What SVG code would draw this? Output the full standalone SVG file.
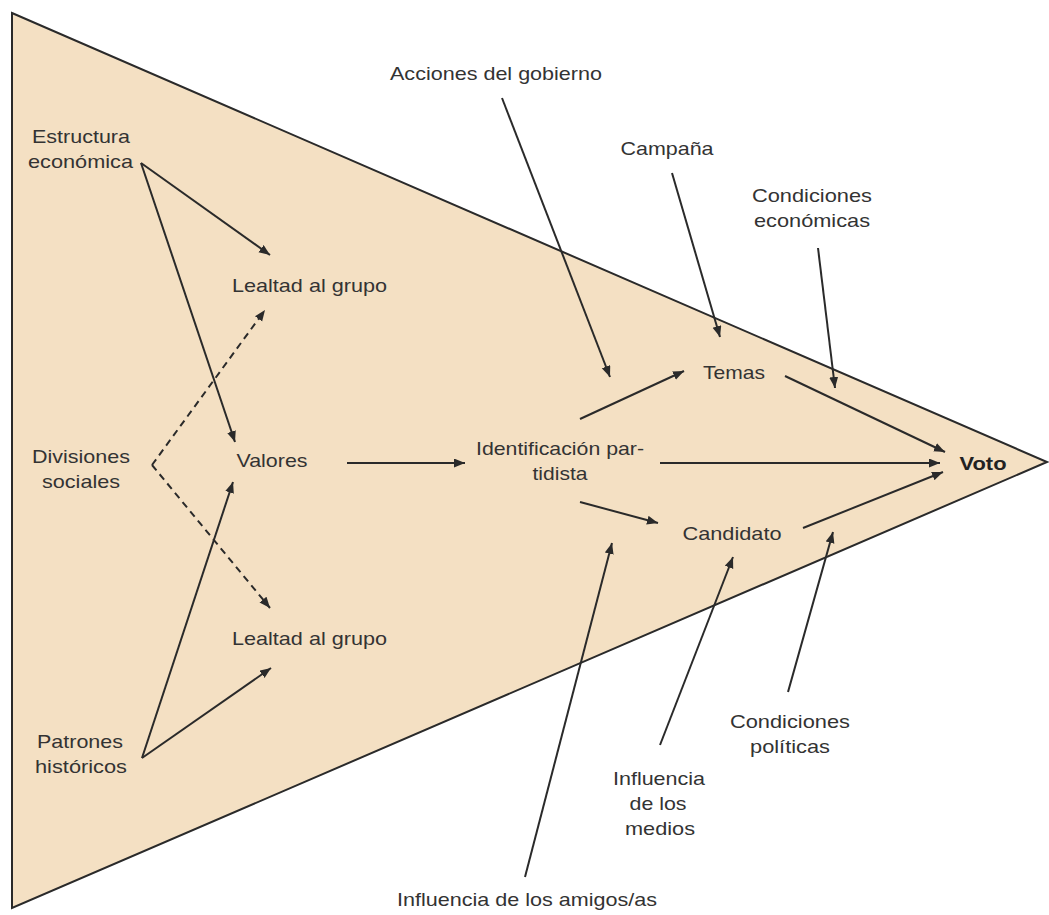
<svg xmlns="http://www.w3.org/2000/svg" width="1049" height="915" viewBox="0 0 1049 915">
<defs>
<marker id="ah" markerUnits="userSpaceOnUse" markerWidth="12" markerHeight="10" refX="11" refY="4.5" orient="auto">
<path d="M0,0 L11,4.5 L0,9 Z" fill="#2a2a2a"/>
</marker>
<style>
.t{font-family:"Liberation Sans",Arial,sans-serif;font-size:18.5px;fill:#333;text-anchor:middle}
.b{font-weight:bold;fill:#222}
.c{stroke:#2a2a2a;stroke-width:2;fill:none;marker-end:url(#ah)}
.d{stroke-dasharray:7,5}
</style>
</defs>
<rect x="0" y="0" width="1049" height="915" fill="#fff"/>
<g id="triangle">
<polygon points="12,13 1047,462 12,908" fill="#F4E0C3" stroke="#2a2a2a" stroke-width="2"/>
</g>
<g id="connectors">
<line class="c" x1="141" y1="163" x2="270" y2="255"/>
<line class="c" x1="141" y1="163" x2="235" y2="442"/>
<line class="c d" x1="152" y1="465" x2="265" y2="310"/>
<line class="c d" x1="152" y1="465" x2="270" y2="608"/>
<line class="c" x1="142" y1="758" x2="233" y2="482"/>
<line class="c" x1="142" y1="758" x2="271" y2="668"/>
<line class="c" x1="347" y1="463" x2="465" y2="463"/>
<line class="c" x1="502" y1="98" x2="610" y2="377"/>
<line class="c" x1="672" y1="173" x2="720" y2="337"/>
<line class="c" x1="580" y1="419" x2="684" y2="371"/>
<line class="c" x1="660" y1="463" x2="940" y2="463"/>
<line class="c" x1="580" y1="502" x2="658" y2="523"/>
<line class="c" x1="785" y1="376" x2="945" y2="452"/>
<line class="c" x1="803" y1="528" x2="943" y2="472"/>
<line class="c" x1="818" y1="248" x2="835" y2="388"/>
<line class="c" x1="525" y1="877" x2="612" y2="543"/>
<line class="c" x1="660" y1="745" x2="733" y2="557"/>
<line class="c" x1="788" y1="692" x2="833" y2="532"/>
</g>
<g id="estructura"><text class="t" x="81" y="143" textLength="98" lengthAdjust="spacingAndGlyphs">Estructura</text><text class="t" x="80.5" y="168" textLength="105" lengthAdjust="spacingAndGlyphs">económica</text></g>
<g id="lealtad1"><text class="t" x="309.5" y="292" textLength="155" lengthAdjust="spacingAndGlyphs">Lealtad al grupo</text></g>
<g id="divisiones"><text class="t" x="81" y="463" textLength="98" lengthAdjust="spacingAndGlyphs">Divisiones</text><text class="t" x="81" y="488" textLength="78" lengthAdjust="spacingAndGlyphs">sociales</text></g>
<g id="valores"><text class="t" x="272" y="467" textLength="71" lengthAdjust="spacingAndGlyphs">Valores</text></g>
<g id="lealtad2"><text class="t" x="309.5" y="645" textLength="155" lengthAdjust="spacingAndGlyphs">Lealtad al grupo</text></g>
<g id="patrones"><text class="t" x="80" y="748" textLength="86" lengthAdjust="spacingAndGlyphs">Patrones</text><text class="t" x="81" y="773" textLength="92" lengthAdjust="spacingAndGlyphs">históricos</text></g>
<g id="acciones"><text class="t" x="496" y="80" textLength="212" lengthAdjust="spacingAndGlyphs">Acciones del gobierno</text></g>
<g id="campana"><text class="t" x="667" y="155" textLength="93" lengthAdjust="spacingAndGlyphs">Campaña</text></g>
<g id="condecon"><text class="t" x="812" y="202" textLength="120" lengthAdjust="spacingAndGlyphs">Condiciones</text><text class="t" x="812" y="227" textLength="116" lengthAdjust="spacingAndGlyphs">económicas</text></g>
<g id="temas"><text class="t" x="734" y="379" textLength="62" lengthAdjust="spacingAndGlyphs">Temas</text></g>
<g id="identificacion"><text class="t" x="560" y="455" textLength="168" lengthAdjust="spacingAndGlyphs">Identificación par-</text><text class="t" x="560" y="480" textLength="55" lengthAdjust="spacingAndGlyphs">tidista</text></g>
<g id="voto"><text class="t b" x="983" y="470" textLength="47" lengthAdjust="spacingAndGlyphs">Voto</text></g>
<g id="candidato"><text class="t" x="732" y="540" textLength="99" lengthAdjust="spacingAndGlyphs">Candidato</text></g>
<g id="medios"><text class="t" x="659" y="785" textLength="92" lengthAdjust="spacingAndGlyphs">Influencia</text><text class="t" x="658" y="810" textLength="57" lengthAdjust="spacingAndGlyphs">de los</text><text class="t" x="660" y="835" textLength="70" lengthAdjust="spacingAndGlyphs">medios</text></g>
<g id="condpol"><text class="t" x="790" y="728" textLength="120" lengthAdjust="spacingAndGlyphs">Condiciones</text><text class="t" x="790" y="753" textLength="80" lengthAdjust="spacingAndGlyphs">políticas</text></g>
<g id="amigos"><text class="t" x="527" y="906" textLength="260" lengthAdjust="spacingAndGlyphs">Influencia de los amigos/as</text></g>
</svg>
